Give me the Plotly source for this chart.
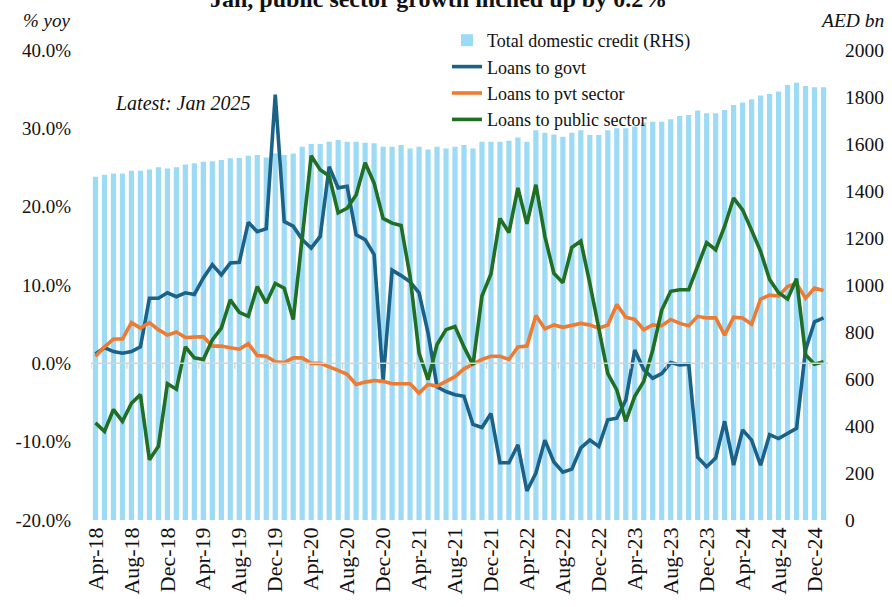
import pandas as pd
import plotly.graph_objects as go

# ---------------- data ----------------
months = list(pd.date_range("2018-04-01", periods=82, freq="MS").strftime("%b-%y"))

tick_labels = ["Apr-18", "Aug-18", "Dec-18", "Apr-19", "Aug-19", "Dec-19", "Apr-20",
               "Aug-20", "Dec-20", "Apr-21", "Aug-21", "Dec-21", "Apr-22", "Aug-22",
               "Dec-22", "Apr-23", "Aug-23", "Dec-23", "Apr-24", "Aug-24", "Dec-24"]

total_credit = [
    1461, 1469, 1475, 1475, 1486, 1486, 1492, 1501, 1496, 1501, 1513, 1518, 1525, 1527, 1532, 1539, 1540, 1550,
    1553, 1543, 1560, 1553, 1560, 1588, 1600, 1600, 1610, 1617, 1610, 1610, 1605, 1603, 1588, 1588, 1596,
    1581, 1588, 1577, 1588, 1581, 1588, 1596, 1581, 1610, 1610, 1610, 1614, 1628, 1610, 1659, 1648,
    1640, 1631, 1648, 1659, 1638, 1638, 1659, 1667, 1667, 1674, 1691, 1695, 1695, 1705, 1719, 1723, 1743,
    1731, 1731, 1745, 1766, 1777, 1790, 1806, 1813, 1823, 1851, 1861, 1847, 1841, 1841,
]

loans_govt = [
    1.2, 2.0, 1.5, 1.3, 1.5, 2.1, 8.3, 8.3, 9.0, 8.5, 9.0, 8.8, 10.9, 12.6, 11.3, 12.8, 12.9, 18.0,
    16.8, 17.2, 34.3, 18.1, 17.5, 15.8, 14.7, 16.2, 25.1, 22.4, 22.6, 16.4, 15.8, 13.9, -2.1, 11.9, 11.2,
    10.4, 9.0, 3.9, -3.0, -3.6, -4.0, -4.2, -7.8, -8.2, -6.4, -12.7, -12.7, -10.4, -16.3, -14.0, -9.8,
    -12.6, -13.9, -13.5, -10.8, -9.8, -10.6, -7.2, -7.0, -4.7, 1.7, -0.8, -1.9, -1.3, 0.1, -0.2, -0.1, -12.0,
    -13.2, -12.1, -7.4, -13.0, -8.5, -9.8, -13.0, -9.1, -9.6, -8.9, -8.3, 1.7, 5.3, 5.8,
]

loans_pvt = [
    0.9, 2.1, 3.1, 3.1, 5.2, 4.5, 5.2, 4.3, 3.6, 4.0, 3.3, 3.3, 3.4, 2.2, 2.2, 2.0, 1.8, 2.5,
    1.0, 0.9, 0.2, 0.1, 0.7, 0.7, 0.0, 0.0, -0.4, -0.9, -1.4, -2.7, -2.4, -2.2, -2.3, -2.6, -2.6,
    -2.6, -3.8, -2.7, -2.9, -2.3, -1.7, -0.7, -0.1, 0.5, 0.9, 0.9, 0.5, 2.1, 2.2, 6.1, 4.4,
    4.9, 4.6, 4.9, 5.1, 4.9, 4.5, 4.9, 7.5, 5.9, 5.6, 4.3, 4.9, 4.8, 5.6, 5.1, 4.8, 6.0,
    5.8, 5.8, 3.6, 5.9, 5.8, 5.0, 8.2, 8.7, 8.6, 9.8, 10.2, 8.3, 9.6, 9.3,
]

loans_public = [
    -7.6, -8.7, -5.9, -7.4, -5.1, -4.0, -12.3, -10.6, -2.6, -3.3, 2.1, 0.7, 0.5, 3.0, 4.5, 8.1, 6.5, 6.0,
    9.8, 7.7, 10.2, 9.6, 5.6, 16.0, 26.5, 24.7, 23.9, 19.2, 19.8, 21.5, 25.6, 23.0, 18.5, 17.9, 17.6,
    11.1, 1.3, -2.1, 2.4, 4.3, 4.7, 2.1, -0.2, 8.6, 11.4, 18.5, 16.7, 22.4, 17.8, 22.8, 16.2,
    11.5, 10.3, 14.8, 15.6, 10.2, 4.7, -1.3, -3.4, -7.4, -4.2, -2.3, 1.7, 6.8, 9.2, 9.4, 9.4, 12.4,
    15.4, 14.5, 17.5, 21.1, 19.6, 17.0, 14.3, 10.7, 9.0, 8.2, 10.8, 1.1, -0.1, 0.2,
]

left_tick_vals = [-20, -10, 0, 10, 20, 30, 40]
left_tick_text = ["-20.0%", "-10.0%", "0.0%", "10.0%", "20.0%", "30.0%", "40.0%"]
right_tick_vals = [0, 200, 400, 600, 800, 1000, 1200, 1400, 1600, 1800, 2000]

# ---------------- styling ----------------
W, H = 892, 607
L, R, T, B = 90.5, 63.5, 50, 87
FONT = "Liberation Serif, Times New Roman, serif"
TXT = "#111111"
BAR_C = "#9ddaf5"
GOVT_C = "#1b6288"
PVT_C = "#ee7b33"
PUB_C = "#1f6f24"

def px_x(px):
    return (px - L) / (W - L - R)

def px_y(py):
    return (H - B - py) / (H - T - B)

fig = go.Figure()
fig.add_trace(go.Bar(x=months, y=total_credit, name="Total domestic credit (RHS)",
                     marker=dict(color=BAR_C, line=dict(width=0)), yaxis="y"))
for name, vals, col in [("Loans to govt", loans_govt, GOVT_C),
                        ("Loans to pvt sector", loans_pvt, PVT_C),
                        ("Loans to public sector", loans_public, PUB_C)]:
    fig.add_trace(go.Scatter(x=months, y=vals, name=name, mode="lines",
                             line=dict(color=col, width=3.6), yaxis="y2"))

shapes = [dict(type="line", xref="paper", yref="y2", x0=0, x1=1, y0=0, y1=0,
               line=dict(color="#d4d4d4", width=1.5), layer="above")]
for lab in tick_labels:
    i = months.index(lab)
    shapes.append(dict(type="line", xref="x", yref="y2", x0=i - 0.5, x1=i - 0.5,
                       y0=0, y1=-0.7, line=dict(color="#d4d4d4", width=1.2), layer="above"))

fig.update_layout(
    width=W, height=H,
    margin=dict(l=L, r=R, t=T, b=B, autoexpand=False),
    paper_bgcolor="white", plot_bgcolor="white",
    font=dict(family=FONT, color=TXT, size=19),
    bargap=0.42,
    showlegend=True,
    hovermode=False,
    legend=dict(x=px_x(447), y=px_y(22), xanchor="left", yanchor="top",
                bgcolor="rgba(0,0,0,0)", font=dict(family=FONT, size=18, color=TXT),
                tracegroupgap=0, itemwidth=30),
    xaxis=dict(type="category", categoryorder="array", categoryarray=months,
               range=[-0.5, len(months) - 0.5], automargin=False,
               tickmode="array", tickvals=tick_labels, ticktext=tick_labels,
               tickangle=-90, tickfont=dict(size=22, family=FONT, color=TXT),
               showgrid=False, showline=False, ticks="", zeroline=False,
               ticklabelstandoff=2),
    yaxis=dict(range=[0, 2000], side="right", tickmode="array", automargin=False,
               tickvals=right_tick_vals, ticktext=[str(v) for v in right_tick_vals],
               showgrid=False, zeroline=False, showline=False, ticks="",
               tickfont=dict(size=19.5, family=FONT, color=TXT), ticklabelstandoff=16),
    yaxis2=dict(range=[-20, 40], side="left", overlaying="y", anchor="x", automargin=False,
                tickmode="array", tickvals=left_tick_vals, ticktext=left_tick_text,
                showgrid=False, zeroline=False, showline=False, ticks="",
                tickfont=dict(size=19, family=FONT, color=TXT), ticklabelstandoff=19),
    shapes=shapes,
    annotations=[
        dict(text="<b>Jan, public sector growth inched up by 0.2%</b>", xref="paper", yref="paper",
             x=px_x(438), y=px_y(-1), xanchor="center", yanchor="middle", showarrow=False,
             font=dict(family=FONT, size=24, color=TXT)),
        dict(text="<i>% yoy</i>", xref="paper", yref="paper", x=px_x(20), y=px_y(20),
             xanchor="left", yanchor="middle", showarrow=False,
             font=dict(family=FONT, size=19, color=TXT)),
        dict(text="<i>AED bn</i>", xref="paper", yref="paper", x=px_x(887), y=px_y(20),
             xanchor="right", yanchor="middle", showarrow=False,
             font=dict(family=FONT, size=19.5, color=TXT)),
        dict(text="<i>Latest: Jan 2025</i>", xref="paper", yref="paper", x=px_x(113), y=px_y(103),
             xanchor="left", yanchor="middle", showarrow=False,
             font=dict(family=FONT, size=20, color=TXT)),
    ],
)

fig.write_html("out.html", config={"displayModeBar": False},
               post_script="document.body.style.margin='0';document.body.style.padding='0';")
